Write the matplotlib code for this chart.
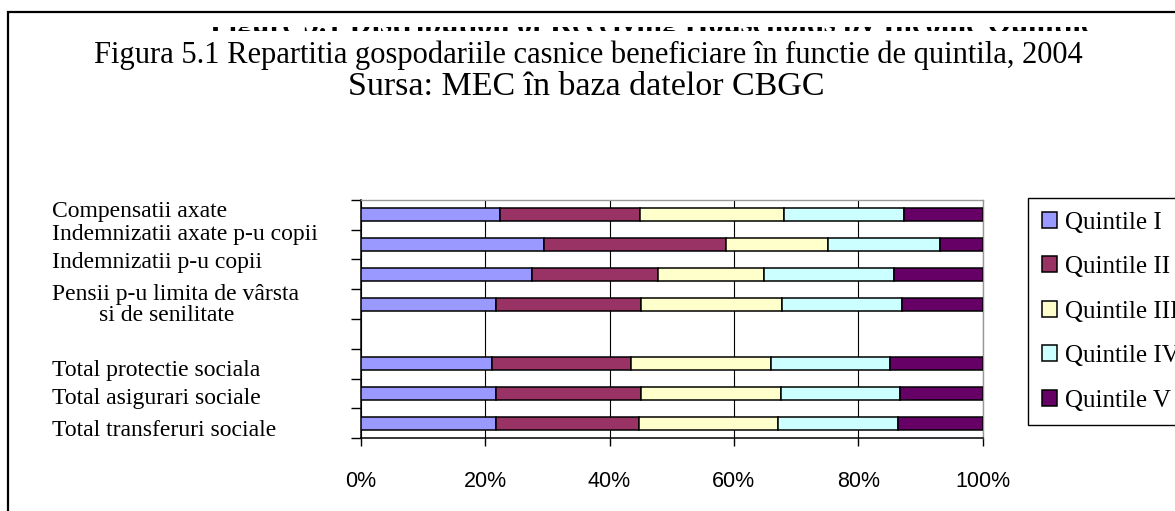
import numpy as np
import matplotlib
matplotlib.use('Agg')
import matplotlib.pyplot as plt
import matplotlib.transforms as mtransforms
from matplotlib.patches import Rectangle, Patch

# data (percent of households per quintile)
categories = ['Compensatii axate',
              'Indemnizatii axate p-u copii',
              'Indemnizatii p-u copii',
              'Pensii p-u limita de vârsta\n        si de senilitate',
              '',
              'Total protectie sociala',
              'Total asigurari sociale',
              'Total transferuri sociale']
quintile_1 = [22.4, 29.5, 27.6, 21.7, np.nan, 21.1, 21.8, 21.8]
quintile_2 = [22.5, 29.2, 20.2, 23.3, np.nan, 22.3, 23.2, 22.9]
quintile_3 = [23.2, 16.5, 17.1, 22.8, np.nan, 22.5, 22.5, 22.4]
quintile_4 = [19.2, 17.9, 20.9, 19.3, np.nan, 19.2, 19.2, 19.3]
quintile_5 = [12.7, 6.9, 14.2, 12.9, np.nan, 14.9, 13.3, 13.6]
series_names = ['Quintile I', 'Quintile II', 'Quintile III', 'Quintile IV', 'Quintile V']
xtick_vals = [0, 20, 40, 60, 80, 100]
xtick_labels = ['0%', '20%', '40%', '60%', '80%', '100%']

colors = ['#9999FF', '#993366', '#FFFFCC', '#CCFFFF', '#660066']
label_dy = [3, 10, 12, -1, 0, -7, -5, -7]  # px, labels sit a bit off the bars

serif = ['Liberation Serif', 'DejaVu Serif']
sans = ['Liberation Sans', 'DejaVu Sans']

W, H = 1175, 511
fig = plt.figure(figsize=(W / 100, H / 100), dpi=100)
ax = fig.add_axes([360.7 / W, 1 - 438 / H, 622 / W, 238 / H])

series = [quintile_1, quintile_2, quintile_3, quintile_4, quintile_5]
y = np.arange(len(categories))
valid = ~np.isnan(np.array(quintile_1))
left = np.zeros(len(categories))
for vals, name, c in zip(series, series_names, colors):
    vals = np.nan_to_num(np.array(vals, dtype=float))
    ax.barh(y[valid], vals[valid], left=left[valid], height=0.44, color=c,
            edgecolor='black', linewidth=1.1, label=name, zorder=3)
    left = left + vals

ax.set_xlim(0, 100)
ax.set_ylim(len(categories) - 0.5, -0.5)
ax.set_xticks(xtick_vals)
ax.set_xticklabels(xtick_labels, family=sans, fontsize=15.5)
ax.tick_params(axis='x', direction='out', length=6, width=1, pad=18)
ax.set_yticks(np.arange(-0.5, len(categories), 1.0))
ax.set_yticklabels([])
ax.tick_params(axis='y', direction='out', length=7, width=1)
ax.grid(axis='x', color='black', linewidth=0.8, zorder=1)
ax.set_axisbelow(True)
for s in ['left', 'bottom']:
    ax.spines[s].set_color('black')
    ax.spines[s].set_linewidth(1.1)
for s in ['top', 'right']:
    ax.spines[s].set_color('#999999')
    ax.spines[s].set_linewidth(1.0)

# category labels, left aligned at a fixed spot in the figure
blend = mtransforms.blended_transform_factory(fig.transFigure, ax.transData)
for i, (lab, dy) in enumerate(zip(categories, label_dy)):
    tr = blend + mtransforms.ScaledTranslation(0, dy / 100, fig.dpi_scale_trans)
    ax.text(52 / W, i, lab, transform=tr, ha='left', va='center',
            family=serif, fontsize=17, linespacing=1.0, clip_on=False)

# old bold title, mostly hidden behind the new one
fig.text(652 / W, 1 - 33 / H,
         'Figure 5.1 Distribution of Receiving Households by Income Quintile',
         ha='center', va='baseline', family=serif, fontsize=22,
         fontweight='bold', zorder=1)
fig.patches.append(Rectangle((10 / W, 1 - 27.5 / H), 1, 14 / H, transform=fig.transFigure,
                             facecolor='white', edgecolor='none', zorder=2))
fig.patches.append(Rectangle((10 / W, 1 - 41 / H), 1, 9.5 / H, transform=fig.transFigure,
                             facecolor='white', edgecolor='none', zorder=2))

fig.text(588 / W, 1 - 63 / H,
         'Figura 5.1 Repartitia gospodariile casnice beneficiare în functie de quintila, 2004',
         ha='center', va='baseline', family=serif, fontsize=22, zorder=3)
fig.text(586 / W, 1 - 95 / H, 'Sursa: MEC în baza datelor CBGC',
         ha='center', va='baseline', family=serif, fontsize=24.5, zorder=3)

# outer chart frame, runs off the right and bottom edges
fig.patches.append(Rectangle((8 / W, -0.1), 1.2, 1.1 - 12 / H, transform=fig.transFigure,
                             fill=False, edgecolor='black', linewidth=1.6, zorder=4))

handles = [Patch(facecolor=c, edgecolor='black', linewidth=1.1) for c in colors]
leg = fig.legend(handles, series_names, loc='upper left',
                 bbox_to_anchor=(1028 / W, 1 - 198 / H), bbox_transform=fig.transFigure,
                 borderaxespad=0, prop={'family': serif, 'size': 18},
                 handlelength=0.6, handleheight=0.6, handletextpad=0.33,
                 labelspacing=0.9, borderpad=0.55, fancybox=False,
                 edgecolor='black', framealpha=1)
leg.get_frame().set_linewidth(1.0)

fig.savefig('out.png', dpi=100)
